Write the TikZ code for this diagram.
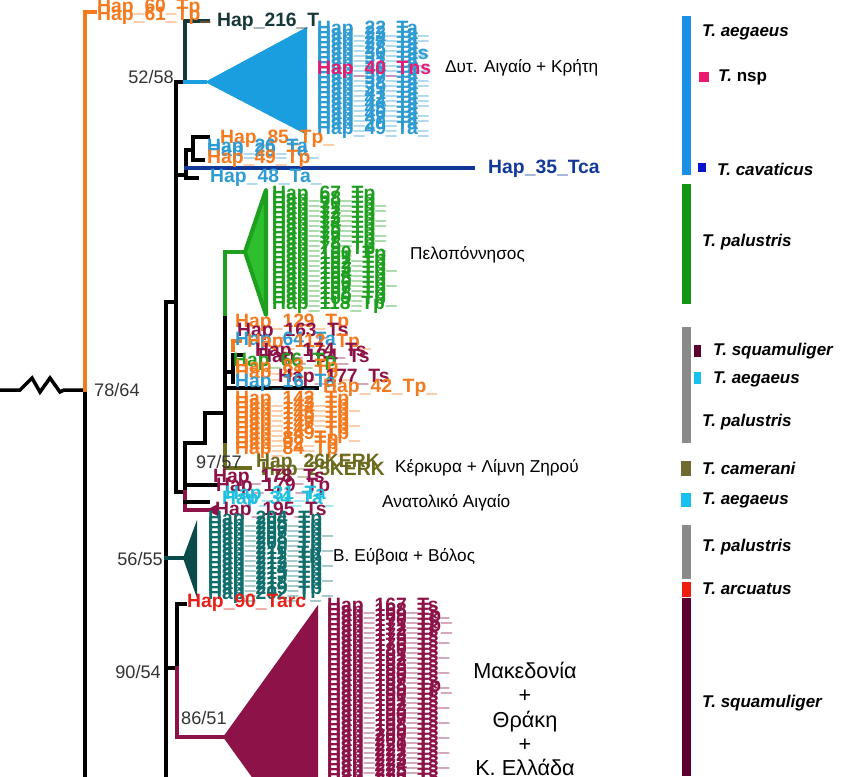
\documentclass[tikz,border=0pt]{standalone}
\usepackage{fontspec}
\setmainfont{Liberation Sans}
\usepackage{tikz}
\usetikzlibrary{positioning}
\definecolor{orangeT}{HTML}{F47A20}
\definecolor{slateT}{HTML}{173838}
\definecolor{blueTa}{HTML}{2F9BD3}
\definecolor{triblue}{HTML}{1B9EE0}
\definecolor{pinkTns}{HTML}{EC1A6E}
\definecolor{navyTca}{HTML}{12399A}
\definecolor{greenTp}{HTML}{1F9F1F}
\definecolor{greenfill}{HTML}{2DBF2D}
\definecolor{crimTs}{HTML}{8C1248}
\definecolor{oliveK}{HTML}{6B6A1E}
\definecolor{cyanTa}{HTML}{1FC0DF}
\definecolor{tealTp}{HTML}{106E6C}
\definecolor{tealtri}{HTML}{0C4B4B}
\definecolor{redTarc}{HTML}{E8201A}
\definecolor{legblue}{HTML}{1A8FE6}
\definecolor{leggreen}{HTML}{139413}
\definecolor{leggray}{HTML}{8A8A8A}
\definecolor{legolive}{HTML}{6E6A30}
\definecolor{legcyan}{HTML}{18C0F0}
\definecolor{legred}{HTML}{F01E10}
\definecolor{legmaroon}{HTML}{5C0030}
\definecolor{legnavy}{HTML}{0A14C8}
\colorlet{suppc}{black!80}
\newcommand{\hapfnt}{\fontsize{16.5}{18}\selectfont\bfseries}
\newcommand{\supfnt}{\fontsize{15.5}{17}\selectfont}
\newcommand{\grpfnt}{\fontsize{14.7}{17}\selectfont}
\newcommand{\macfnt}{\fontsize{18.5}{20.7}\selectfont}
\newcommand{\legfnt}{\fontsize{14.5}{16}\selectfont\bfseries\itshape}

\begin{document}
\begin{tikzpicture}[x=0.03cm,y=-0.03cm,
  br/.style={line width=3pt,line cap=rect},
  hap/.style={anchor=west,inner sep=0pt,font=\hapfnt},
  supp/.style={inner sep=0pt,font=\supfnt,text=suppc},
  grp/.style={anchor=west,inner sep=0pt,font=\grpfnt},
  leg/.style={anchor=west,inner sep=0pt,font=\legfnt}]
\clip (0,0) rectangle (842,776);

\coordinate (z0) at (0,390);
\coordinate (v1) at (85,390);
\coordinate (v2) at (166,302);
\coordinate (v3) at (176,302);
\coordinate (v52) at (185,82);
\coordinate (vsm) at (186,175);
\coordinate (vlow) at (185,492);
\coordinate (v97) at (205,443);
\coordinate (vpel) at (225,413);
\coordinate (v55) at (166,558);
\coordinate (v90) at (177,668);

% backbone
\draw[br] (z0) -- ++(20,0) -- ++(12,-12) -- ++(8,14) -- ++(10,-14) -- ++(10,14) -- ++(4,-2) -- (v1);
\draw[br] (v1) -- (85,790);
\draw[br,orangeT] (v1) -- (85,12) -- (95,12);
\draw[br] (v2) -- (166,790);
\draw[br] (v2) -- (v3);
\draw[br] (176,82) -- (176,492);

% upper clades
\draw[br] (176,82) -- (v52);
\draw[br,slateT] (v52) -- (185,21) -- (208,21);
\draw[br,triblue] (v52) -- (205,82);
\fill[triblue] (205,82) -- (307,27) -- (307,135) -- cycle;
\draw[br] (176,175) -- (vsm);
\draw[br] (186,150) -- (186,178) -- (197,178);
\draw[br] (186,150) -- (193,150);
\draw[br] (193,137) -- (193,160) -- (203,160);
\draw[br] (193,137) -- (208,137);
\draw[br,navyTca] (186,168) -- (473,168);

% middle clades
\draw[br] (176,492) -- (vlow);
\draw[br] (185,443) -- (vlow);
\draw[br,crimTs] (vlow) -- (185,510) -- (208,510);
\fill[crimTs] (206,510) -- (218,504) -- (218,516) -- cycle;
\draw[br] (185,502) -- (208,502);
\draw[br] (185,485) -- (218,485);
\draw[br] (185,443) -- (v97) -- (205,413) -- (vpel);
\draw[br,greenTp] (225,318) -- (225,252) -- (245,252);
\filldraw[fill=greenfill,draw=greenTp,line width=3.5pt,line join=round] (245,252) -- (266,190) -- (266,315) -- cycle;
\draw[br] (225,318) -- (225,445);
\draw[br,oliveK] (225,445) -- (225,468) -- (250,468);
\draw[br] (225,372) -- (233,372);
\draw[br] (233,355) -- (233,382);
\draw[br] (233,355) -- (243,355);
\draw[br] (225,388) -- (317,388);
\draw[br,orangeT] (240,341) -- (233,341) -- (233,350);

% lower clades
\draw[br,tealtri] (v55) -- (183,558);
\fill[tealtri] (183,558) -- (197,520) -- (197,598) -- cycle;
\draw[br] (166,668) -- (v90);
\draw[br] (177,604) -- (v90);
\draw[br] (177,604) -- (185,604);
\draw[br,crimTs] (v90) -- (177,737) -- (223,737);
\fill[crimTs] (223,737) -- (318,605) -- (318,869) -- cycle;

% tip labels
\node[hap,text=orangeT] (hap60) at (97,8) {Hap\_60\_Tp};
\node[hap,text=orangeT] (hap61) at (97,16) {Hap\_61\_Tp\_};
\node[hap,text=slateT] (hap216) at (217,22) {Hap\_216\_T};
\foreach \s [count=\i] in {22\_Ta\_,23\_Ta\_,24\_Ta,27\_Ta\_,28\_Ta\_,30\_Tas,31\_Ta\_,33\_Ta\_,34\_Ta,36\_Ta\_,37\_Ta\_,38\_Ta,39\_Ta\_,41\_Ta\_,42\_Ta\_,44\_Ta,45\_Ta\_,46\_Ta\_,47\_Ta,20\_Ta\_,49\_Ta\_}
  \node[hap,text=blueTa] (ta\i) at (317,{25+5*\i}) {Hap\_\s};
\node[hap,text=pinkTns] (tns) at (317,70) {Hap\_40\_Tns};
\node[hap,text=orangeT] (hap85) at (220,139) {Hap\_85\_Tp\_};
\node[hap,text=blueTa] (hap26) at (207,148) {Hap\_26\_Ta};
\node[hap,text=blueTa] (hap29) at (207,152) {Hap\_29\_Ta\_};
\node[hap,text=orangeT] (hap49) at (207,159) {Hap\_49\_Tp};
\node[hap,text=blueTa] (hap48) at (210,178) {Hap\_48\_Ta\_};
\node[hap,text=navyTca] (hap35) at (488,169) {Hap\_35\_Tca};
\foreach \s [count=\i] in {67\_Tp,68\_Tp\_,70\_Tp\_,71\_Tp,72\_Tp\_,73\_Tp\_,74\_Tp,75\_Tp\_,76\_Tp\_,77\_Tp,78\_Tp\_,79\_Tp\_,100\_Tp,101\_Tp,102\_Tp\_,103\_Tp,104\_Tp,105\_Tp\_,106\_Tp,107\_Tp,108\_Tp,109\_Tp\_,118\_Tp}
  \node[hap,text=greenTp] (tp\i) at (272,{190+5*\i}) {Hap\_\s};
\node[hap,text=orangeT] (hap129) at (235,323) {Hap\_129\_Tp};
\node[hap,text=crimTs] (hap163) at (237,332) {Hap\_163\_Ts};
\node[hap,text=blueTa] (hap64) at (235,341) {Hap\_64\_Ta};
\node[hap,text=orangeT] (hap112) at (247,343) {Hap\_112\_Tp\_};
\node[hap,text=crimTs] (hap174) at (255,352) {Hap\_174\_Ts};
\node[hap,text=crimTs] (hap184) at (258,358) {Hap\_184\_Ts};
\node[hap,text=greenTp] (hap66) at (233,362) {Hap\_66\_Tp};
\node[hap,text=orangeT] (hap83) at (235,368) {Hap\_83\_Tp};
\node[hap,text=orangeT] (hap81) at (235,374) {Hap\_81\_Tp\_};
\node[hap,text=crimTs] (hap177) at (278,378) {Hap\_177\_Ts};
\node[hap,text=blueTa] (hap16) at (235,383) {Hap\_16\_Ta};
\node[hap,text=orangeT] (hap42) at (323,388) {Hap\_42\_Tp\_};
\foreach \s [count=\i] in {142\_Tp,143\_Tp\_,144\_Tp,145\_Tp,146\_Tp\_,147\_Tp,148\_Tp,149\_Tp\_,88\_Tp,92\_Tp,84\_Tp\_}
  \node[hap,text=orangeT] (tq\i) at (235,{395+5*\i}) {Hap\_\s};
\node[hap,text=oliveK] (kerk26) at (256,463) {Hap\_26KERK};
\node[hap,text=oliveK] (kerk25) at (261,471) {Hap\_25KERK};
\node[hap,text=crimTs] (hap178) at (213,478) {Hap\_178\_Ts};
\node[hap,text=crimTs] (hap179) at (216,487) {Hap\_179\_Tp};
\node[hap,text=cyanTa] (hap31) at (225,495) {Hap\_31\_Ta};
\node[hap,text=cyanTa] (hap34) at (222,500) {Hap\_34\_Ta\_};
\node[hap,text=crimTs] (hap195) at (215,511) {Hap\_195\_Ts};
\foreach \s [count=\i] in {204\_Tp,205\_Tp,206\_Tp\_,207\_Tp,208\_Tp,209\_Tp\_,210\_Tp,211\_Tp,212\_Tp\_,213\_Tp,214\_Tp,215\_Tp\_,217\_Tp,218\_Tp,219\_Tp\_,202\_T\_}
  \node[hap,text=tealTp] (tv\i) at (208,{515+5*\i}) {Hap\_\s};
\node[hap,text=redTarc] (hap90) at (187,603) {Hap\_90\_Tarc};
\foreach \s [count=\i] in {167\_Ts,168\_Ts\_,169\_Tp\_,170\_Ts,171\_Tp\_,172\_Ts,173\_Ts\_,175\_Ts,176\_Ts,180\_Ts\_,181\_Ts,182\_Ts,183\_Ts\_,185\_Ts,186\_Ts,187\_Ts\_,188\_Tp\_,189\_Ts,190\_Ts,191\_Ts\_,192\_Ts,193\_Ts,196\_Ts\_,197\_Ts,198\_Ts,199\_Ts\_,200\_Ts,201\_Ts,220\_Ts\_,221\_Ts,222\_Ts,223\_Ts\_,224\_Ts,225\_Ts,226\_Ts\_,227\_Ts,228\_Ts}
  \node[hap,text=crimTs] (ts\i) at (327,{602+5*\i}) {Hap\_\s};

% support values
\node[supp,anchor=east] (s5258) at (174,77) {52/58};
\node[supp,anchor=west] (s7864) at (94,390) {78/64};
\node[supp,anchor=west] (s9757) at (196,462) {97/57};
\node[supp,anchor=east] (s5655) at (163,559) {56/55};
\node[supp,anchor=east] (s9054) at (161,672) {90/54};
\node[supp,anchor=west] (s8651) at (181,718) {86/51};

% regions
\node[grp] (gcrete) at (445,68) {Δυτ. Αιγαίο + Κρήτη};
\node[grp] (gpelop) at (410,255) {Πελοπόννησος};
\node[grp] (gkerk) at (395,468) {Κέρκυρα + Λίμνη Ζηρού};
\node[grp] (gaeg) at (382,503) {Ανατολικό Αιγαίο};
\node[grp] (gevia) at (333,557) {Β. Εύβοια + Βόλος};
\node[inner sep=0pt,font=\macfnt,align=center] (gmaced) at (525,719) {Μακεδονία\\+\\Θράκη\\+\\Κ. Ελλάδα};

% species bars
\fill[legblue] (682,16) rectangle (691,175);
\fill[leggreen] (682,184) rectangle (691,304);
\fill[leggray] (682,327) rectangle (691,443);
\fill[legolive] (681,461) rectangle (691,476);
\fill[legcyan] (681,493) rectangle (691,507);
\fill[leggray] (682,525) rectangle (691,579);
\fill[legred] (682,582) rectangle (691,597);
\fill[legmaroon] (682,598) rectangle (691,776);
\fill[pinkTns] (699,72) rectangle (709,82);
\fill[legnavy] (698,163) rectangle (706,172);
\fill[legmaroon] (694,345) rectangle (701,357);
\fill[legcyan] (694,372) rectangle (701,384);
\node[leg] (l1) at (702,32) {T. aegaeus};
\node[leg] (l2) at (718,77) {T. \upshape nsp};
\node[leg] (l3) at (717,169) {T. cavaticus};
\node[leg] (l4) at (702,242) {T. palustris};
\node[leg] (l5) at (713,351) {T. squamuliger};
\node[leg] (l6) at (713,379) {T. aegaeus};
\node[leg] (l7) at (702,422) {T. palustris};
\node[leg] (l8) at (702,468) {T. camerani};
\node[leg] (l9) at (702,500) {T. aegaeus};
\node[leg] (l10) at (702,547) {T. palustris};
\node[leg] (l11) at (702,589) {T. arcuatus};
\node[leg] (l12) at (702,703) {T. squamuliger};
\end{tikzpicture}
\end{document}
